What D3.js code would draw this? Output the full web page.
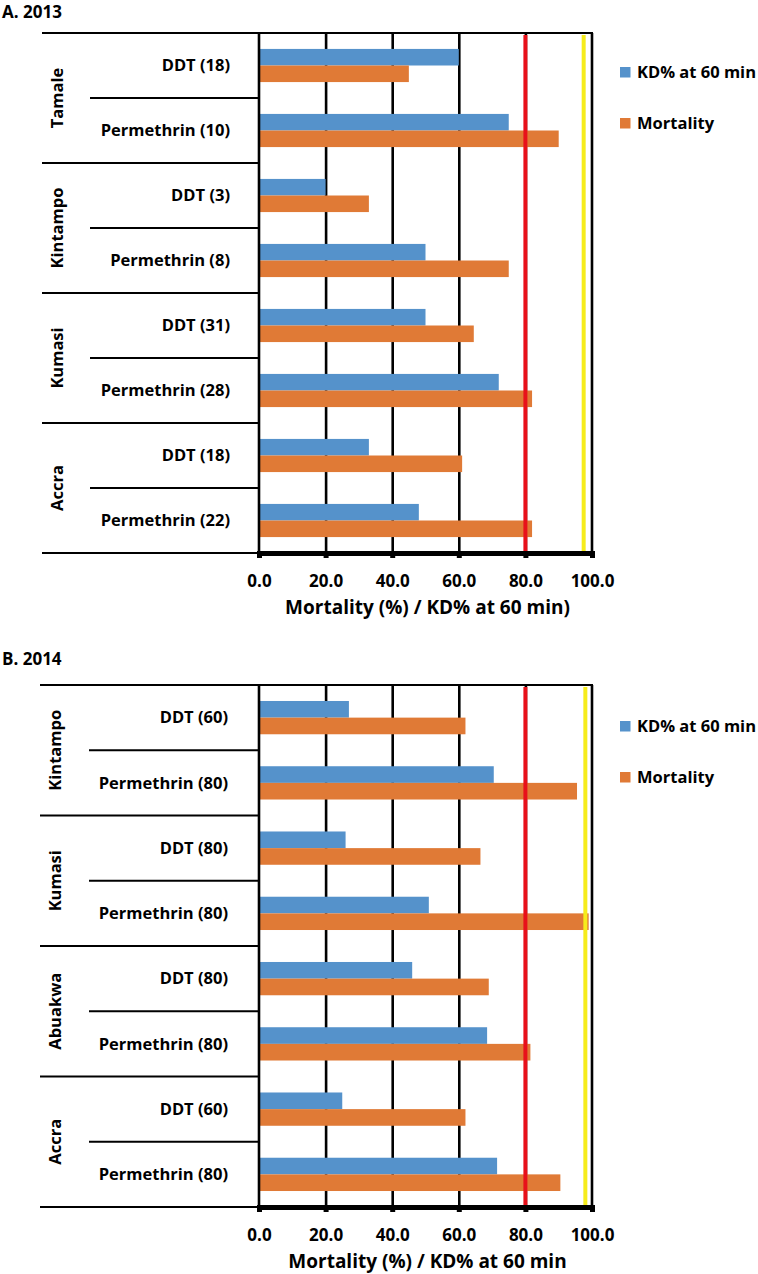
<!DOCTYPE html>
<html>
<head>
<meta charset="utf-8">
<script src="https://cdn.jsdelivr.net/npm/d3@7"></script>
<style>
  html, body { margin: 0; padding: 0; background: #fff; }
  svg { display: block; }
  text { font-family: "Open Sans", "Liberation Sans", Arial, sans-serif; font-weight: 700; fill: #000; }
</style>
</head>
<body>
<svg id="chart" width="758" height="1274"></svg>
<script>
// ---------- data ----------
const seriesNames = ["KD% at 60 min", "Mortality"];
const tickValues = [0, 20, 40, 60, 80, 100];

const titleA = "A. 2013";
const sitesA = ["Tamale", "Kintampo", "Kumasi", "Accra"];
const categoriesA = ["DDT (18)", "Permethrin (10)", "DDT (3)", "Permethrin (8)", "DDT (31)", "Permethrin (28)", "DDT (18)", "Permethrin (22)"];
const kdA = [60, 75, 20, 50, 50, 72, 33, 48];
const mortalityA = [45, 90, 33, 75, 64.5, 82, 61, 82];
const thresholdsA = [80, 97.5];
const axisTitleA = "Mortality (%)  / KD% at 60 min)";

const titleB = "B. 2014";
const sitesB = ["Kintampo", "Kumasi", "Abuakwa", "Accra"];
const categoriesB = ["DDT (60)", "Permethrin (80)", "DDT (80)", "Permethrin (80)", "DDT (80)", "Permethrin (80)", "DDT (60)", "Permethrin (80)"];
const kdB = [27, 70.5, 26, 51, 46, 68.5, 25, 71.5];
const mortalityB = [62, 95.5, 66.5, 99, 69, 81.5, 62, 90.5];
const thresholdsB = [80, 98];
const axisTitleB = "Mortality (%)  / KD% at 60 min";

// ---------- style ----------
const colors = ["#5592cb", "#e07a36"];
const thresholdColors = ["#e8101a", "#f6ec1c"];

const svg = d3.select("#chart");

function drawPanel(cfg) {
  const { top, bottom, left, right, title, titleY, sites, categories, kd, mortality, thresholds, axisTitle, legendY } = cfg;
  const g = svg.append("g");
  const idx = d3.range(categories.length);

  const x = d3.scaleLinear().domain([0, 100]).range([left, right]);
  const y = d3.scaleBand().domain(idx).range([top, bottom]).padding(0);
  const ySites = d3.scaleBand().domain(d3.range(sites.length)).range([top, bottom]).padding(0);
  const bw = y.bandwidth();
  const ySeries = d3.scaleBand().domain([0, 1]).range([bw * 0.245, bw * 0.755]).padding(0);

  // title
  g.append("text").attr("x", 2).attr("y", titleY).style("font-size", "17px").text(title);

  // gridlines (20, 40, 60)
  g.append("g")
    .attr("transform", `translate(0,${bottom})`)
    .call(d3.axisBottom(x).tickValues(tickValues.filter(v => v > 0 && v < 100)).tickSize(-(bottom - top)).tickFormat(""))
    .call(a => a.select(".domain").remove())
    .call(a => a.selectAll("line").attr("stroke", "#000").attr("stroke-width", 2.6));

  // bars
  const rows = idx.map(i => ({ i, vals: [kd[i], mortality[i]] }));
  const rg = g.selectAll("g.row").data(rows).join("g").attr("class", "row")
    .attr("transform", d => `translate(0,${y(d.i)})`);
  rg.selectAll("rect").data(d => d.vals.map((v, s) => ({ v, s }))).join("rect")
    .attr("x", x(0))
    .attr("y", d => ySeries(d.s))
    .attr("width", d => x(d.v) - x(0))
    .attr("height", ySeries.bandwidth())
    .attr("fill", d => colors[d.s]);

  // threshold lines
  g.selectAll("line.thr").data(thresholds).join("line").attr("class", "thr")
    .attr("x1", d => x(d)).attr("x2", d => x(d))
    .attr("y1", top + 2).attr("y2", bottom)
    .attr("stroke", (d, i) => thresholdColors[i]).attr("stroke-width", 4);

  // frame: top line, left axis line, right line
  g.append("line").attr("x1", cfg.groupLineX).attr("x2", right + 1).attr("y1", top).attr("y2", top)
    .attr("stroke", "#000").attr("stroke-width", 2);
  g.append("line").attr("x1", left).attr("x2", left).attr("y1", top).attr("y2", bottom)
    .attr("stroke", "#000").attr("stroke-width", 2.6);
  g.append("line").attr("x1", right).attr("x2", right).attr("y1", top).attr("y2", bottom)
    .attr("stroke", "#000").attr("stroke-width", 2.6);

  // left separators: groups and subgroups
  g.selectAll("line.grp").data(d3.range(sites.length + 1)).join("line").attr("class", "grp")
    .attr("x1", cfg.groupLineX).attr("x2", left)
    .attr("y1", d => top + d * ySites.bandwidth()).attr("y2", d => top + d * ySites.bandwidth())
    .attr("stroke", "#000").attr("stroke-width", 2);
  g.selectAll("line.sub").data(d3.range(sites.length)).join("line").attr("class", "sub")
    .attr("x1", cfg.subLineX).attr("x2", left)
    .attr("y1", d => ySites(d) + ySites.bandwidth() / 2).attr("y2", d => ySites(d) + ySites.bandwidth() / 2)
    .attr("stroke", "#000").attr("stroke-width", 2);

  // category labels
  g.selectAll("text.cat").data(idx).join("text").attr("class", "cat")
    .attr("x", cfg.catX).attr("y", i => y(i) + bw / 2)
    .attr("dy", "0.35em").attr("text-anchor", "end").style("font-size", "16.5px")
    .text(i => categories[i]);

  // site labels (rotated)
  g.selectAll("text.site").data(sites).join("text").attr("class", "site")
    .attr("transform", (d, i) => `translate(${cfg.siteX},${ySites(i) + ySites.bandwidth() / 2}) rotate(-90)`)
    .attr("text-anchor", "middle").attr("dy", "0.35em").style("font-size", "16.5px")
    .text(d => d);

  // bottom axis
  const ax = g.append("g")
    .attr("transform", `translate(0,${bottom})`)
    .call(d3.axisBottom(x).tickValues(tickValues).tickSize(5).tickPadding(17).tickFormat(d3.format(".1f")));
  ax.select(".domain").attr("stroke", "#000").attr("stroke-width", 5);
  ax.selectAll(".tick line").attr("stroke", "#000").attr("stroke-width", 5);
  ax.selectAll(".tick text").style("font-size", "17px").attr("fill", "#000");
  ax.attr("font-family", null).attr("font-size", null);

  // axis title
  g.append("text").attr("x", (left + right) / 2 + 2).attr("y", bottom + 61)
    .attr("text-anchor", "middle").style("font-size", "19px").text(axisTitle);

  // legend
  const lg = g.append("g").attr("transform", `translate(620,${legendY})`);
  const li = lg.selectAll("g").data(seriesNames).join("g")
    .attr("transform", (d, i) => `translate(0,${i * 51})`);
  li.append("rect").attr("x", 0).attr("y", -5).attr("width", 10.5).attr("height", 10.5)
    .attr("fill", (d, i) => colors[i]);
  li.append("text").attr("x", 17).attr("y", 0).attr("dy", "0.35em").style("font-size", "16.5px").text(d => d);
}

drawPanel({
  top: 33, bottom: 553, left: 259, right: 592, title: titleA, titleY: 18,
  sites: sitesA, categories: categoriesA, kd: kdA, mortality: mortalityA, thresholds: thresholdsA,
  axisTitle: axisTitleA, legendY: 72, groupLineX: 42, subLineX: 90, catX: 230, siteX: 57
});

drawPanel({
  top: 685, bottom: 1207, left: 259, right: 592, title: titleB, titleY: 665,
  sites: sitesB, categories: categoriesB, kd: kdB, mortality: mortalityB, thresholds: thresholdsB,
  axisTitle: axisTitleB, legendY: 726, groupLineX: 40, subLineX: 89, catX: 228, siteX: 55
});
</script>
</body>
</html>
